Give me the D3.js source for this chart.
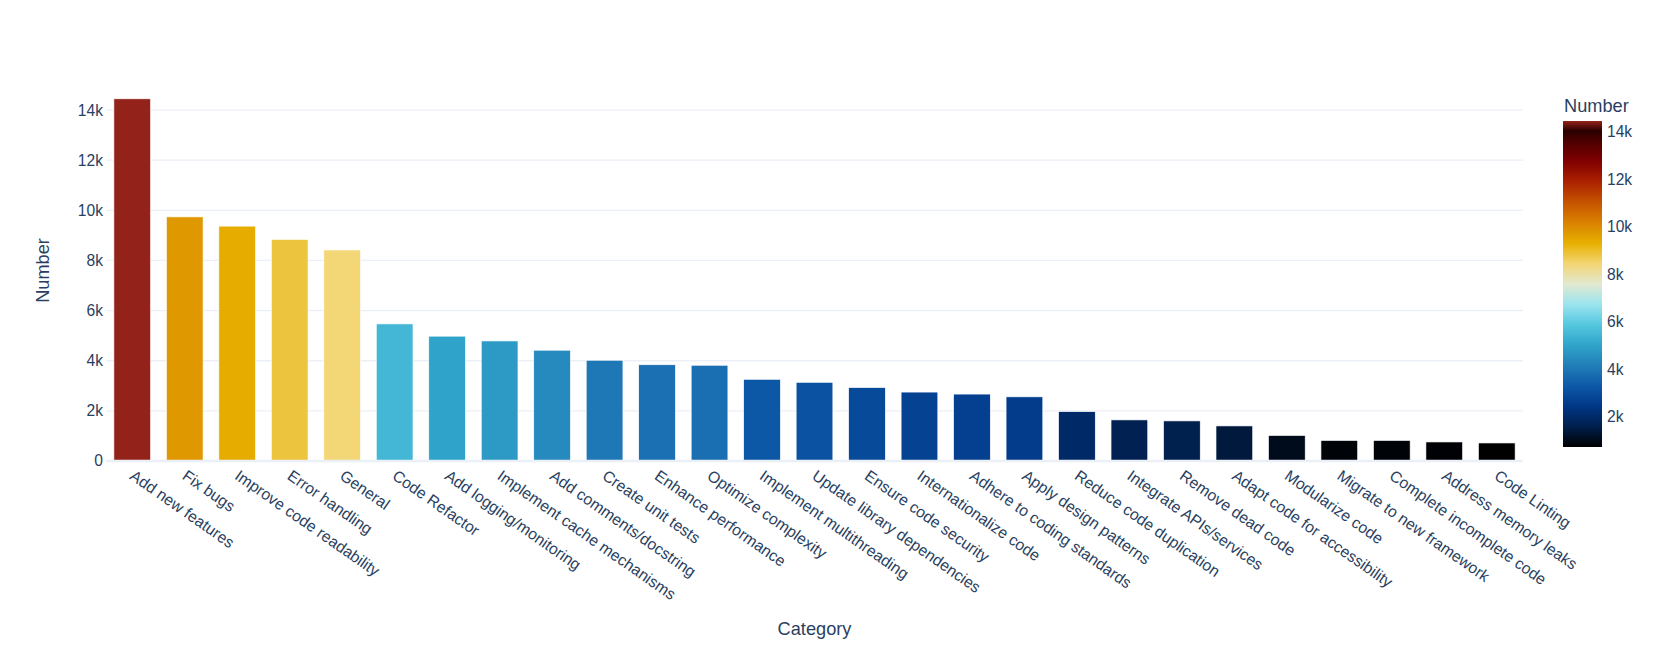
<!DOCTYPE html>
<html>
<head>
<meta charset="utf-8">
<style>
body { margin: 0; background: #fff; }
svg text { font-family: "Liberation Sans", Arial, sans-serif; fill: #2a3f5f; }
</style>
</head>
<body>
<svg width="1661" height="652"></svg>
<script src="https://d3js.org/d3.v7.min.js"></script>
<script>

// data
var categories = ["Add new features", "Fix bugs", "Improve code readability", "Error handling", "General",
  "Code Refactor", "Add logging/monitoring", "Implement cache mechanisms", "Add comments/docstring",
  "Create unit tests", "Enhance performance", "Optimize complexity", "Implement multithreading",
  "Update library dependencies", "Ensure code security", "Internationalize code", "Adhere to coding standards",
  "Apply design patterns", "Reduce code duplication", "Integrate APIs/services", "Remove dead code",
  "Adapt code for accessibility", "Modularize code", "Migrate to new framework", "Complete incomplete code",
  "Address memory leaks", "Code Linting"];
var counts = [14450, 9740, 9370, 8840, 8420, 5470, 4980, 4790, 4420, 4020, 3840, 3820, 3260, 3140,
  2930, 2750, 2670, 2560, 1970, 1640, 1600, 1400, 1020, 820, 820, 760, 720];
var yTicks = [0, 2000, 4000, 6000, 8000, 10000, 12000, 14000];
var barTicks = [2000, 4000, 6000, 8000, 10000, 12000, 14000];
var yMax = 15200;

// colour scale (IceFire-like, as seen on the colour bar)
var scaleColors = ["#000000", "#001f4d", "#003786", "#0e58a8", "#217eb8", "#30a4ca", "#54c8df", "#9be4ef",
  "#e1e9d1", "#f3d573", "#e7b000", "#da8200", "#c65400", "#ac2301", "#820000", "#4c0000", "#2a0000", "#93231a"];
var scalePos = [0, 1/16, 2/16, 3/16, 4/16, 5/16, 6/16, 7/16, 8/16, 9/16, 10/16, 11/16, 12/16, 13/16, 14/16, 15/16, 0.97, 1];

var svg = d3.select("svg"),
    margin = {top: 80, right: 138, bottom: 191, left: 106},
    width = 1661 - margin.left - margin.right,
    height = 652 - margin.top - margin.bottom;

var vmin = d3.min(counts), vmax = d3.max(counts);

var x = d3.scaleBand()
    .domain(categories)
    .range([margin.left, margin.left + width])
    .paddingInner(0.3)
    .paddingOuter(0.15);

var y = d3.scaleLinear()
    .domain([0, yMax])
    .range([margin.top + height, margin.top]);

var color = d3.scaleLinear()
    .domain(scalePos.map(function(p) { return vmin + p * (vmax - vmin); }))
    .range(scaleColors)
    .interpolate(d3.interpolateRgb);

// grid
svg.append("g")
  .selectAll("line")
  .data(yTicks.slice(1))
  .enter().append("line")
    .attr("x1", margin.left)
    .attr("x2", margin.left + width)
    .attr("y1", function(d) { return y(d); })
    .attr("y2", function(d) { return y(d); })
    .attr("stroke", "#ebf0f8")
    .attr("stroke-width", 1.3);

// bars
svg.append("g")
  .selectAll("rect")
  .data(categories)
  .enter().append("rect")
    .attr("x", function(d) { return x(d); })
    .attr("width", x.bandwidth())
    .attr("y", function(d, i) { return y(counts[i]); })
    .attr("height", function(d, i) { return y(0) - y(counts[i]); })
    .attr("fill", function(d, i) { return color(counts[i]); })
    .attr("stroke", "#fff")
    .attr("stroke-width", 0.65);

// zero line
svg.append("line")
    .attr("x1", margin.left)
    .attr("x2", margin.left + width)
    .attr("y1", y(0))
    .attr("y2", y(0))
    .attr("stroke", "#ebf0f8")
    .attr("stroke-width", 2.6);

// y tick labels
svg.append("g")
  .selectAll("text")
  .data(yTicks)
  .enter().append("text")
    .attr("x", margin.left - 3)
    .attr("y", function(d) { return y(d); })
    .attr("dy", "0.35em")
    .attr("text-anchor", "end")
    .style("font-size", "15.6px")
    .text(function(d) { return d3.format("~s")(d); });

// x tick labels, rotated
svg.append("g")
  .selectAll("text")
  .data(categories)
  .enter().append("text")
    .attr("transform", function(d) {
      return "translate(" + (x(d) + x.bandwidth() / 2 + 3) + "," + (y(0) + 8) + ") rotate(35)";
    })
    .attr("dy", "0.71em")
    .attr("text-anchor", "start")
    .style("font-size", "15.8px")
    .text(function(d) { return d; });

// axis titles
svg.append("text")
    .attr("x", margin.left + width / 2)
    .attr("y", 635)
    .attr("text-anchor", "middle")
    .style("font-size", "18.2px")
    .text("Category");

svg.append("text")
    .attr("transform", "translate(49," + (margin.top + height / 2) + ") rotate(-90)")
    .attr("text-anchor", "middle")
    .style("font-size", "18.2px")
    .text("Number");

// colour bar
var cbX = 1563, cbW = 39, cbTop = 121, cbBottom = 447;
var cb = d3.scaleLinear().domain([vmin, vmax]).range([cbBottom, cbTop]);

var grad = svg.append("defs").append("linearGradient")
    .attr("id", "cbgrad")
    .attr("x1", 0).attr("y1", 1).attr("x2", 0).attr("y2", 0);
grad.selectAll("stop")
  .data(scalePos)
  .enter().append("stop")
    .attr("offset", function(d) { return d; })
    .attr("stop-color", function(d, i) { return scaleColors[i]; });

svg.append("rect")
    .attr("x", cbX)
    .attr("y", cbTop)
    .attr("width", cbW)
    .attr("height", cbBottom - cbTop)
    .attr("fill", "url(#cbgrad)");

svg.append("g")
  .selectAll("text")
  .data(barTicks)
  .enter().append("text")
    .attr("x", cbX + cbW + 5)
    .attr("y", function(d) { return cb(d); })
    .attr("dy", "0.35em")
    .style("font-size", "15.6px")
    .text(function(d) { return d3.format("~s")(d); });

svg.append("text")
    .attr("x", cbX + 1)
    .attr("y", 112)
    .style("font-size", "18.2px")
    .text("Number");

</script>
</body>
</html>
